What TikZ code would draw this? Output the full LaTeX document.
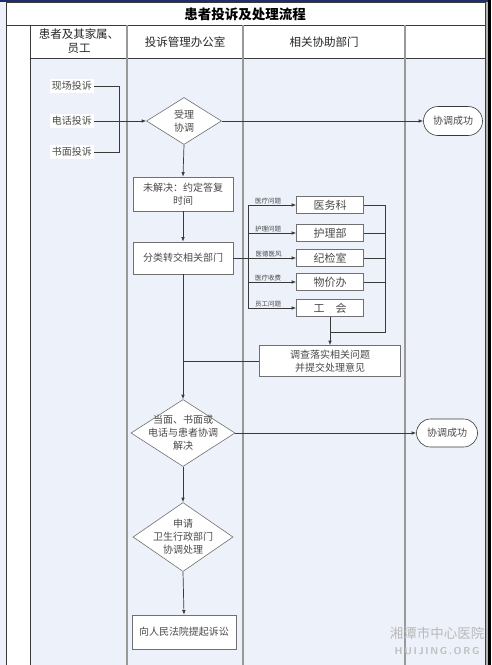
\documentclass[tikz,border=0pt]{standalone}
\usepackage{fontspec}
\setmainfont{Noto Sans CJK SC}
\usetikzlibrary{shapes.geometric,shapes.misc,arrows.meta}
\definecolor{bgblue}{HTML}{EDF1FA}
\definecolor{navy}{HTML}{1F2D6B}
\definecolor{linec}{HTML}{3A3A3A}
\definecolor{boxc}{HTML}{707070}
\definecolor{txtc}{HTML}{4A4A4A}
\tikzset{
  grid/.style={draw=linec, line width=0.7pt},
  lane/.style={draw=gray!80, line width=1.2pt},
  src/.style={fill=white, inner sep=2pt, text=txtc, font=\fontsize{10}{12}\selectfont},
  box/.style={draw=boxc, fill=white, line width=0.6pt, text=txtc, align=center, inner sep=1pt, font=\fontsize{10}{13}\selectfont},
  dept/.style={box, minimum width=67pt, minimum height=17.5pt, font=\fontsize{11}{13}\selectfont},
  dia/.style={diamond, draw=boxc, fill=white, line width=0.6pt, inner sep=0pt},
  dtext/.style={align=center, text=txtc, font=\fontsize{10}{13}\selectfont},
  okbox/.style={rounded rectangle, draw=linec, fill=white, line width=0.6pt, text=txtc, font=\fontsize{10}{12}\selectfont, inner sep=1pt},
  conn/.style={draw=linec, line width=0.7pt},
  arr/.style={conn, -{Latex[length=4.5pt,width=3.5pt]}},
  tag/.style={font=\fontsize{6.5}{7}\selectfont, text=txtc, inner sep=1pt, above},
  head/.style={font=\fontsize{11.5}{14}\selectfont, align=center, text=black!85}
}
\begin{document}
\begin{tikzpicture}[x=1pt,y=-1pt]
\useasboundingbox (0,0) rectangle (491,665);
% background
\fill[bgblue] (0,0) rectangle (491,665);
\fill[white] (6,2) rectangle (485,58);
\fill[white] (6,58) rectangle (30,665);
\fill[navy] (0,0) rectangle (491,2.2);
\fill[gray!60] (485,2) rectangle (487.5,665);
\fill[black] (487.5,0) rectangle (491,665);
% grid
\draw[grid] (6,2) -- (6,665);
\draw[grid] (485,2) -- (485,665);
\draw[grid] (6,2.5) -- (485,2.5);
\draw[grid] (6,25) -- (485,25);
\draw[grid] (30,58) -- (485,58);
\draw[grid] (30,25) -- (30,665);
\draw[lane] (127,25) -- (127,665);
\draw[lane] (243,25) -- (243,665);
\draw[lane] (405,25) -- (405,665);
% headers
\node[font=\fontsize{13.5}{15}\selectfont\bfseries, text=black] (title) at (245,14) {患者投诉及处理流程};
\node[head] (h1) at (79,41) {患者及其家属、\\员工};
\node[head] (h2) at (185,42) {投诉管理办公室};
\node[head] (h3) at (324,42) {相关协助部门};
% sources
\node[src] (n1) at (72,86) {现场投诉};
\node[src] (n2) at (72,121) {电话投诉};
\node[src] (n3) at (72,152) {书面投诉};
\coordinate (j1) at (119,121);
% main flow
\node[dia, minimum width=75pt, minimum height=47pt] (d1) at (184,121) {};
\node[dtext] (d1t) at (d1.center) {受理\\协调};
\node[okbox, minimum width=61pt, minimum height=29pt] (ok1) at (453,121) {协调成功};
\node[box, minimum width=100pt, minimum height=34pt] (b1) at (183,194) {未解决：约定答复\\时间};
\node[box, minimum width=100pt, minimum height=32pt] (b2) at (183,258) {分类转交相关部门};
% departments
\node[dept] (k1) at (330,205) {医务科};
\node[dept] (k2) at (330,233) {护理部};
\node[dept] (k3) at (330,258) {纪检室};
\node[dept] (k4) at (330,282) {物价办};
\node[dept] (k5) at (330,308) {工\quad 会};
\node[box, minimum width=141pt, minimum height=31pt] (b3) at (330,361) {调查落实相关问题\\并提交处理意见};
\node[dia, minimum width=104pt, minimum height=67pt] (d2) at (183,433) {};
\node[dtext] (d2t) at (d2.center) {当面、书面或\\电话与患者协调\\解决};
\node[okbox, minimum width=63pt, minimum height=28pt] (ok2) at (447,433) {协调成功};
\node[dia, minimum width=100pt, minimum height=69pt] (d3) at (183,537) {};
\node[dtext] (d3t) at (d3.center) {申请\\卫生行政部门\\协调处理};
\node[box, minimum width=104pt, minimum height=34pt] (b4) at (184,632) {向人民法院提起诉讼};
% bus coordinates
\coordinate (bl1) at (248,205);
\coordinate (bl2) at (248,308);
\coordinate (br1) at (385,205);
\coordinate (br2) at (385,332);
\coordinate (bm) at (330,332);
% connectors
\draw[conn] (n1.east) -| (j1);
\draw[conn] (n3.east) -| (j1);
\draw[arr] (n2.east) -- (d1.west);
\draw[arr] (d1.east) -- (ok1.west);
\draw[arr] (d1.south) -- (b1.north);
\draw[arr] (b1.south) -- (b2.north);
\draw[conn] (bl1) -- (bl2);
\draw[arr] (k1.west -| bl1) -- node[tag, pos=0.42] {医疗问题} (k1.west);
\draw[arr] (k2.west -| bl1) -- node[tag, pos=0.42] {护理问题} (k2.west);
\draw[arr] (b2.east) -- node[tag, pos=0.56] {医德医风} (k3.west);
\draw[arr] (k4.west -| bl1) -- node[tag, pos=0.42] {医疗收费} (k4.west);
\draw[arr] (k5.west -| bl1) -- node[tag, pos=0.42] {员工问题} (k5.west);
\draw[conn] (k1.east) -| (br2) -- (bm);
\draw[conn] (k2.east) -- (k2.east -| br1);
\draw[conn] (k3.east) -- (k3.east -| br1);
\draw[conn] (k4.east) -- (k4.east -| br1);
\draw[conn] (k5.south) -- (bm);
\draw[arr] (bm) -- (b3.north);
\draw[conn] (b3.west) -- (b3.west -| b2.south);
\draw[arr] (b2.south) -- (d2.north);
\draw[arr] (d2.east) -- (ok2.west);
\draw[arr] (d2.south) -- (d3.north);
\draw[arr] (d3.south) -- (b4.north);
% watermark
\node[text=gray!55, font=\fontsize{13.5}{14}\selectfont] (wm1) at (437,633) {湘潭市中心医院};
\node[text=gray!50, font=\fontsize{10}{11}\selectfont\bfseries\sffamily] (wm2) at (437,651) {H\,U\,I\,J\,I\,N\,G\,.\,O\,R\,G};
\end{tikzpicture}
\end{document}
